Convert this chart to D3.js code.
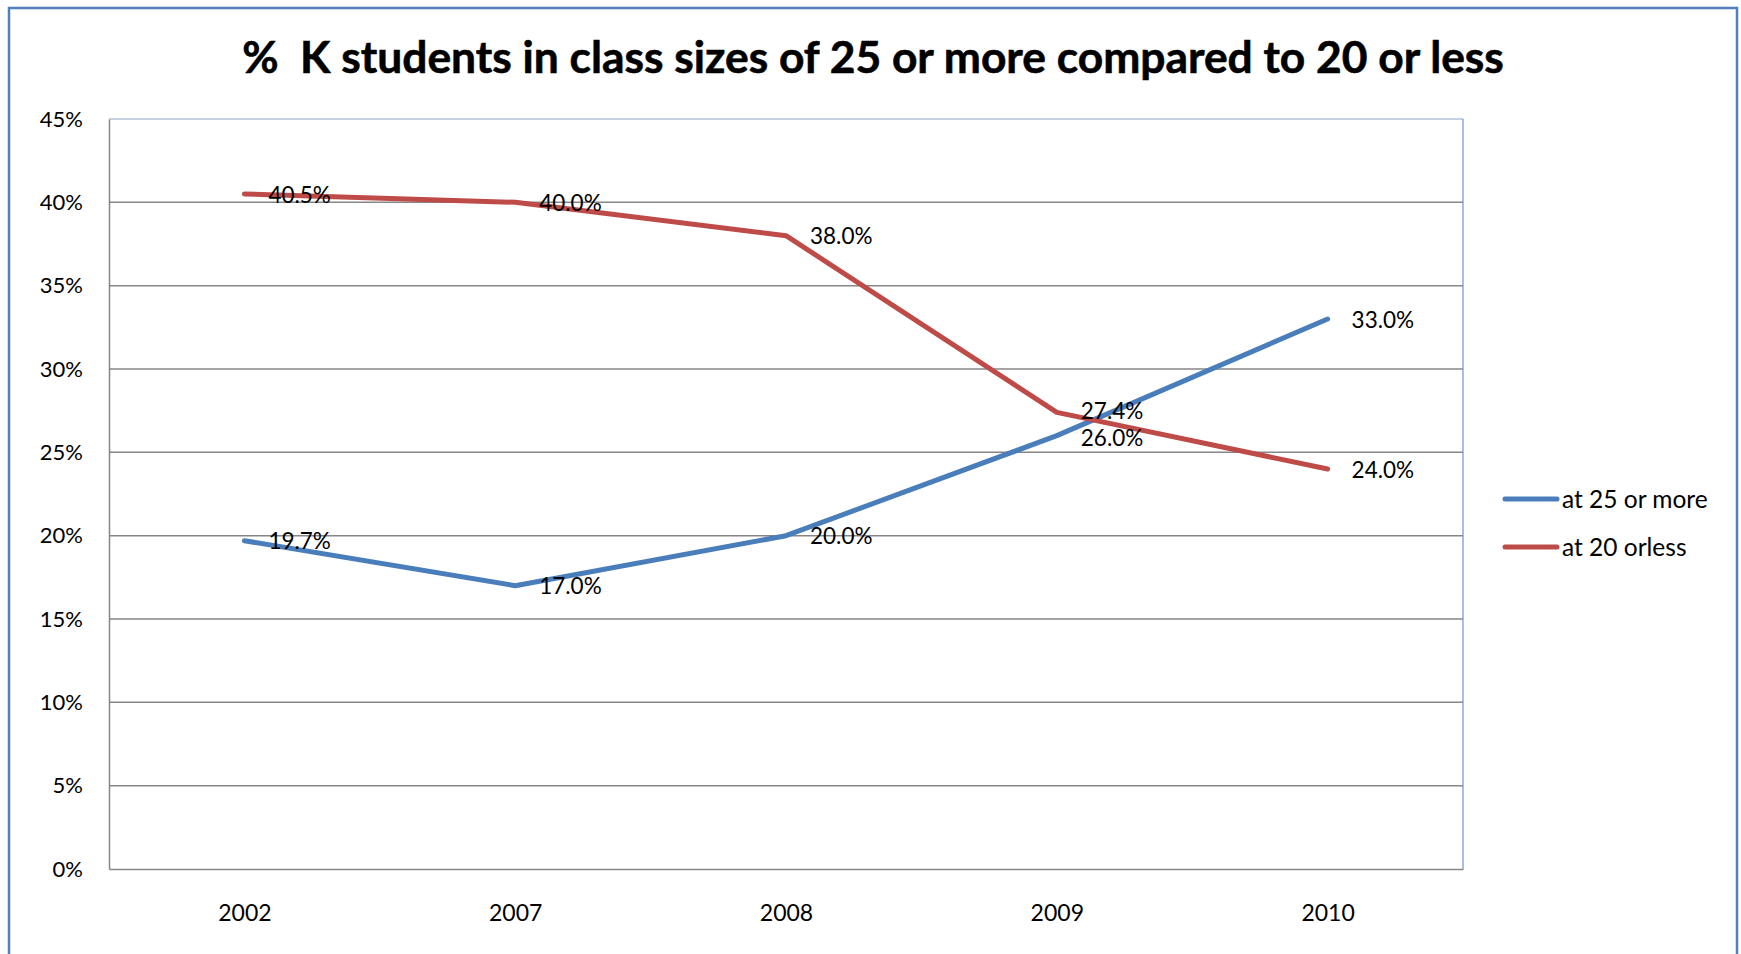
<!DOCTYPE html>
<html><head><meta charset="utf-8">
<script src="https://cdn.jsdelivr.net/npm/d3@7"></script>
<style>html,body{margin:0;padding:0;background:#fff;overflow:hidden}</style>
</head><body>
<svg id="c" width="1741" height="954"></svg>
<script>
const title = "%  K students in class sizes of 25 or more compared to 20 or less";
const years = ["2002", "2007", "2008", "2009", "2010"];
const seriesNames = ["at 25 or more", "at 20 orless"];
const at25OrMore = [0.197, 0.170, 0.200, 0.260, 0.330];
const at20OrLess = [0.405, 0.400, 0.380, 0.274, 0.240];
const yTicks = [0, 0.05, 0.10, 0.15, 0.20, 0.25, 0.30, 0.35, 0.40, 0.45];
const colors = ["#4A7EBB", "#BE4B48"];

const FONT = "Lato, 'Open Sans', sans-serif";
const svg = d3.select("#c");
const plot = {left: 109, right: 1463, top: 119, bottom: 869};

svg.append("rect").attr("x", 9).attr("y", 8).attr("width", 1728).attr("height", 1000)
  .attr("fill", "#fff").attr("stroke", "#4F81BD").attr("stroke-width", 2.5);

const x = d3.scalePoint().domain(years).range([plot.left, plot.right]).padding(0.5);
const y = d3.scaleLinear().domain([0, 0.45]).range([plot.bottom, plot.top]);

// title
const t = svg.append("text").attr("x", 873).attr("y", 73).attr("text-anchor", "middle")
  .attr("font-family", FONT).attr("font-weight", "bold").attr("font-size", 40)
  .attr("fill", "#000").attr("stroke", "#000").attr("stroke-width", 0.6)
  .style("white-space", "pre").text(title);
const tw = t.node().getComputedTextLength();
t.attr("font-size", 40 * 1262 / tw);

// gridlines
svg.append("g").selectAll("line").data(yTicks.filter(v => v > 0 && v < 0.45)).join("line")
  .attr("x1", plot.left).attr("x2", plot.right).attr("y1", d => y(d)).attr("y2", d => y(d))
  .attr("stroke", "#868686").attr("stroke-width", 1.5);

// plot area top/right border
svg.append("line").attr("x1", plot.left).attr("x2", plot.right).attr("y1", y(0.45)).attr("y2", y(0.45))
  .attr("stroke", "#8DA3C4").attr("stroke-width", 1.2);
svg.append("line").attr("x1", plot.right).attr("x2", plot.right).attr("y1", plot.top).attr("y2", plot.bottom)
  .attr("stroke", "#6F93C8").attr("stroke-width", 1.2);

// y axis
const yAxis = d3.axisLeft(y).tickValues(yTicks).tickFormat(d3.format(".0%")).tickSize(0).tickPadding(26);
const gy = svg.append("g").attr("transform", `translate(${plot.left},0)`).call(yAxis);
gy.select(".domain").attr("stroke", "#868686").attr("stroke-width", 1.5);
gy.selectAll("text").attr("font-family", FONT).attr("font-size", 22).attr("fill", "#000");

// x axis
const xAxis = d3.axisBottom(x).tickSize(0).tickPadding(36);
const gx = svg.append("g").attr("transform", `translate(0,${plot.bottom})`).call(xAxis);
gx.select(".domain").attr("stroke", "#868686").attr("stroke-width", 1.5);
gx.selectAll("text").attr("font-family", FONT).attr("font-size", 23).attr("fill", "#000");

// lines
const series = [at25OrMore, at20OrLess];
const line = d3.line().x((d, i) => x(years[i])).y(d => y(d));
series.forEach((s, k) => {
  svg.append("path").datum(s).attr("d", line).attr("fill", "none")
    .attr("stroke", colors[k]).attr("stroke-width", 5).attr("stroke-linecap", "round").attr("stroke-linejoin", "round");
});

// data labels, with simple vertical collision avoidance per category
const LABEL_FS = 22.5;
const labels = [];
series.forEach((s, k) => s.forEach((v, i) => labels.push({i, v, cy: y(v)})));
const minGap = LABEL_FS * 1.22;
years.forEach((yr, i) => {
  const grp = labels.filter(l => l.i === i).sort((a, b) => a.cy - b.cy);
  for (let j = 1; j < grp.length; j++) {
    const gap = grp[j].cy - grp[j - 1].cy;
    if (gap < minGap) {
      const push = (minGap - gap) / 2;
      grp[j - 1].cy -= push;
      grp[j].cy += push;
    }
  }
});
svg.append("g").selectAll("text").data(labels).join("text")
  .attr("x", d => x(years[d.i]) + 24).attr("y", d => d.cy).attr("dy", "0.38em")
  .attr("font-family", FONT).attr("font-size", LABEL_FS).attr("fill", "#000")
  .text(d => d3.format(".1%")(d.v));

// legend
const lg = svg.append("g");
seriesNames.forEach((n, k) => {
  const ly = 499 + k * 48;
  lg.append("line").attr("x1", 1505).attr("x2", 1557).attr("y1", ly).attr("y2", ly)
    .attr("stroke", colors[k]).attr("stroke-width", 5).attr("stroke-linecap", "round");
  lg.append("text").attr("x", 1562).attr("y", ly).attr("dy", "0.38em")
    .attr("font-family", FONT).attr("font-size", 24.5).attr("fill", "#000").text(n);
});
</script>
</body></html>
